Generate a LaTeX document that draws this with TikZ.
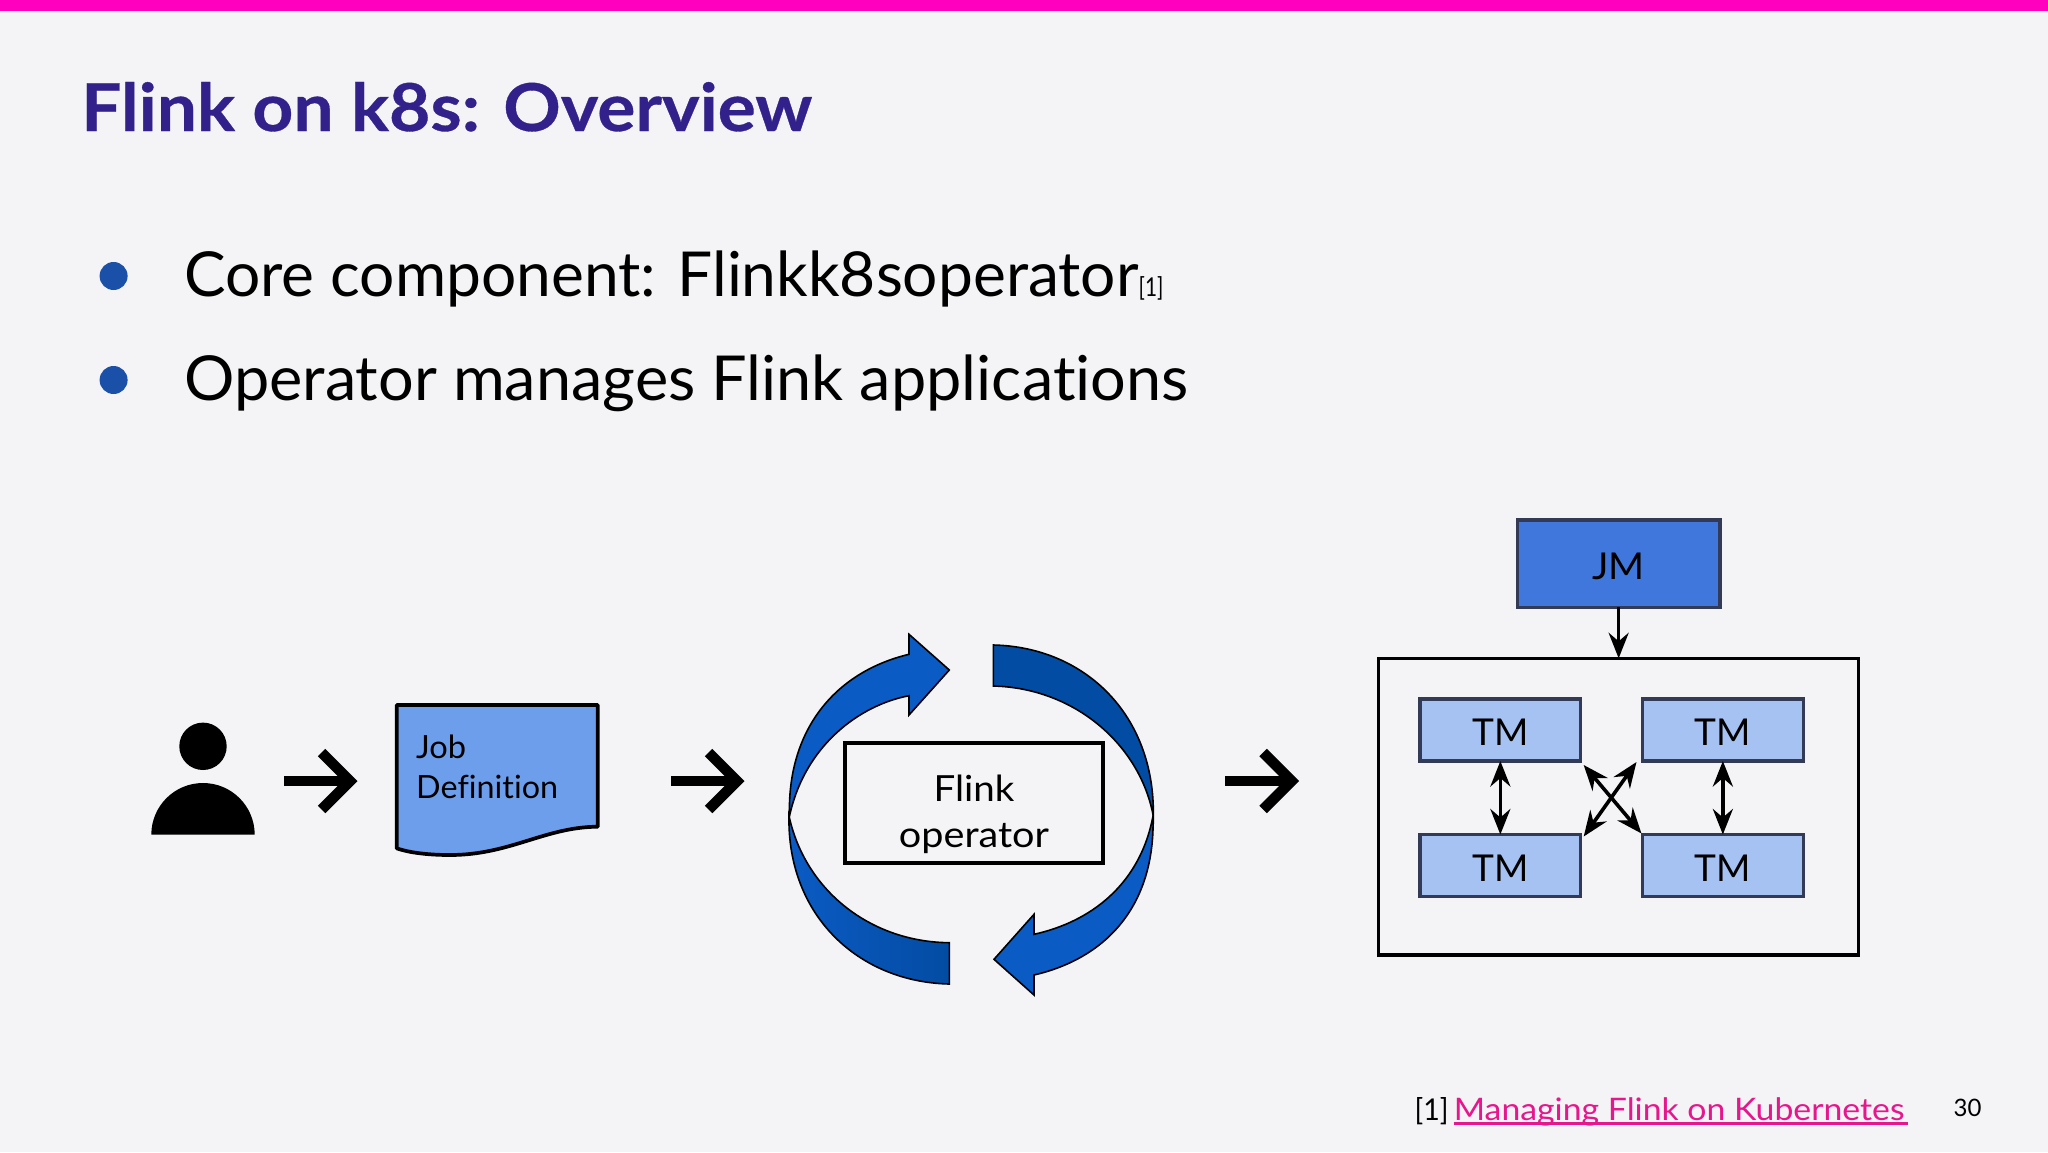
\documentclass[tikz,border=0pt]{standalone}
\usepackage{fontspec}
\setmainfont[Ligatures=NoCommon]{Lato}
\usetikzlibrary{arrows.meta}
\definecolor{bgc}{HTML}{F4F3F5}
\definecolor{barc}{HTML}{FF00BF}
\definecolor{titlec}{HTML}{32218A}
\definecolor{bulletc}{HTML}{1B50A8}
\definecolor{linkc}{HTML}{E6168C}
\definecolor{edgec}{HTML}{333A55}
\definecolor{jmc}{HTML}{3F77DC}
\definecolor{tmc}{HTML}{A6C2F3}
\definecolor{docc}{HTML}{6D9EEB}
\definecolor{arrowa}{HTML}{0B5BC4}
\definecolor{arrowb}{HTML}{034CA3}
\newcommand\wider[1]{\addfontfeature{FakeStretch=#1}}
\tikzset{
  fs/.style={font=\fontsize{#1}{#1}\selectfont},
  tmbox/.style={draw=edgec,line width=3.3pt,fill=tmc,outer sep=0pt,minimum width=160.7pt,minimum height=62pt,inner sep=0pt,fs=37,text=black,anchor=north west,text height=31.8pt,text depth=0pt},
  bigarrow/.style={line width=10.5pt,-{Straight Barb[length=28.5pt,width=57pt,line width=10.5pt]}},
  thinarrow/.style={line width=3.6pt,-{Stealth[length=25.5pt,width=20pt,inset=8.5pt]}},
  dblarrow/.style={line width=3.6pt,{Stealth[length=25.5pt,width=20pt,inset=8.5pt]}-{Stealth[length=25.5pt,width=20pt,inset=8.5pt]}},
  loopa/.style={draw=black,line width=1.6pt,fill=arrowa,line join=miter},
  loopb/.style={draw=black,line width=1.6pt,fill=arrowb,line join=miter},
}
\begin{document}
\begin{tikzpicture}[x=1pt,y=-1pt]
\useasboundingbox (0,0) rectangle (2048,1152);
\fill[bgc] (0,0) rectangle (2048,1152);
\fill[barc] (0,0) rectangle (2048,10.5);
% title
\node[anchor=base west,inner sep=0pt,text=titlec,fs=66] (title) at (81,131) {\bfseries\addfontfeature{FakeStretch=1.08,FakeBold=0.5}Flink on k8s: Overview};
% bullets
\fill[bulletc] (113.6,276) circle (14);
\fill[bulletc] (113.6,380) circle (14);
\node[anchor=base west,inner sep=0pt,fs=62] (b1) at (184,296) {\wider{1.004}Core component: Flinkk8soperator{\fontsize{26}{26}\selectfont\wider{0.8}[1]}};
\node[anchor=base west,inner sep=0pt,fs=62] (b2) at (184,400) {\wider{1.016}Operator manages Flink applications};
% user
\fill[black] (203,746.3) circle (23.7);
\fill[black] (151.3,834.7) arc[start angle=180,end angle=360,radius=51.7] -- cycle;
\coordinate (a1s) at (284,781);
\coordinate (a1e) at (357.5,781);
% doc
\draw[black,line width=3.7pt,fill=docc,line join=round] (396.7,705) -- (597.7,705) -- (597.7,826.7)
  .. controls (545,827) and (510,855) .. (450,855) .. controls (430,855) and (410,853) .. (396.7,848.3) -- cycle;
\node[anchor=base west,inner sep=0pt,fs=32] (doc) at (416,758.3) {\wider{1.02}Job};
\node[anchor=base west,inner sep=0pt,fs=32] (docb) at (416,798.3) {\wider{1.01}Definition};
\coordinate (a2s) at (671,781);
\coordinate (a2e) at (744.5,781);
\coordinate (a3s) at (1225,781);
\coordinate (a3e) at (1299,781);
\draw[bigarrow] (a1s) -- (a1e);
\draw[bigarrow] (a2s) -- (a2e);
\draw[bigarrow] (a3s) -- (a3e);
% loop arrows
\draw[loopb] (993.3,645) .. controls (1085,647) and (1155,715) .. (1153.3,816)
  .. controls (1140,745) and (1075,688) .. (993.3,686) -- cycle;
\draw[draw=black,line width=1.6pt,left color=arrowa,right color=arrowb] (949.3,984) .. controls (858,982) and (787,915) .. (789,816)
  .. controls (805,890) and (870,942) .. (949.3,942.7) -- cycle;
\draw[loopa] (789.5,816) .. controls (787,730) and (835,672) .. (909,654.3) -- (909,634.3) -- (949.3,670) -- (909,715) -- (909,695.7)
  .. controls (860,705) and (805,745) .. (789.5,816) -- cycle;
\draw[loopa] (1153,816) .. controls (1155.5,905) and (1107,958) .. (1034,975) -- (1034,995) -- (994,959.3) -- (1034,914.3) -- (1034,934.3)
  .. controls (1090,922) and (1140,885) .. (1153,816) -- cycle;
% operator
\node[draw=black,line width=3.7pt,outer sep=0pt,minimum width=258pt,minimum height=119.4pt,inner sep=0pt,anchor=north west] (op) at (845,743.3) {};
\node[anchor=base,inner sep=0pt,fs=36] (opa) at (974,801) {\wider{1.07}Flink};
\node[anchor=base,inner sep=0pt,fs=36] (opb) at (974,847) {\wider{1.1}operator};
% JM
\node[draw=edgec,line width=3.3pt,outer sep=0pt,fill=jmc,minimum width=202.7pt,minimum height=87.3pt,inner sep=0pt,anchor=north west,fs=37,text height=31.8pt,text depth=0pt] (jm) at (1517.3,520) {\wider{1.05}JM};
\node[draw=black,line width=3.3pt,outer sep=0pt,minimum width=480pt,minimum height=296.7pt,inner sep=0pt,anchor=north west] (cluster) at (1378.3,658.3) {};
\draw[thinarrow] (jm) -- (jm|-cluster.north);
\node[tmbox] (t1) at (1420,699) {TM};
\node[tmbox] (t2) at (1642.5,699) {TM};
\node[tmbox] (t3) at (1420,834.5) {TM};
\node[tmbox] (t4) at (1642.5,834.5) {TM};
\draw[dblarrow] (t1) -- (t3);
\draw[dblarrow] (t2) -- (t4);
\draw[dblarrow] ([xshift=3pt,yshift=-4pt]t1.south east) -- ([xshift=-1pt,yshift=1pt]t4.north west);
\draw[dblarrow] ([xshift=-6pt,yshift=-1pt]t2.south west) -- ([xshift=3pt,yshift=-2pt]t3.north east);
% footer
\node[anchor=base west,inner sep=0pt,fs=30] (refno) at (1414.5,1120) {\wider{0.95}[1]};
\node[anchor=base west,inner sep=0pt,fs=31,text=linkc] (link) at (1453.6,1120) {\wider{1.09}Managing Flink on Kubernetes};
\draw[linkc,line width=3pt] (link.base west)+(0,3.5) -- +(454.4,3.5);
\node[anchor=base,inner sep=0pt,fs=24] (pg) at (1967.5,1116) {30};
\end{tikzpicture}
\end{document}
